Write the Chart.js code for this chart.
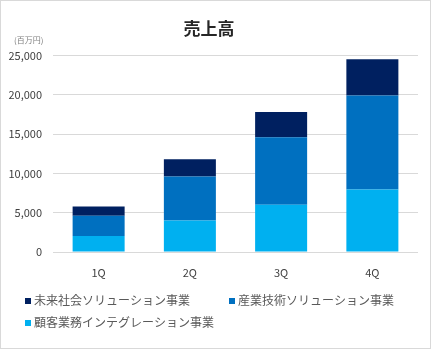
<!DOCTYPE html>
<html>
<head>
<meta charset="utf-8">
<script src="https://cdn.jsdelivr.net/npm/chart.js@4"></script>
<style>
  html, body { margin: 0; padding: 0; background: #fff; }
  #wrap { width: 432px; height: 350px; position: relative; }
</style>
</head>
<body>
<div id="wrap"><canvas id="grafik"></canvas></div>
<script>
// データ（百万円）
const kategori = ['1Q', '2Q', '3Q', '4Q'];
const namaSeri = ['顧客業務インテグレーション事業', '産業技術ソリューション事業', '未来社会ソリューション事業'];
const nilaiKokyaku = [2050, 4000, 6000, 7950];
const nilaiSangyo = [2550, 5600, 8600, 11950];
const nilaiMirai = [1200, 2200, 3200, 4600];
const tickY = [0, 5000, 10000, 15000, 20000, 25000];
const warna = ['#00B0F0', '#0070C0', '#002060'];

const FONT = "'Noto Sans CJK JP', 'Noto Sans', sans-serif";
Chart.defaults.font.family = FONT;

// Legenda dan bingkai digambar sendiri
const pluginLegenda = {
    id: 'legendaKustom',
    afterDraw(chart) {
        const ctx = chart.ctx;
        ctx.save();
        // bingkai
        ctx.strokeStyle = '#d9d9d9';
        ctx.lineWidth = 1;
        ctx.strokeRect(0.5, 0.5, 430, 348);

        // satuan
        ctx.fillStyle = '#7f7f7f';
        ctx.font = "8px " + FONT;
        ctx.textBaseline = 'middle';
        ctx.textAlign = 'left';
        ctx.fillText('(百万円)', 14, 40);

        // legenda (urutan terbalik)
        const posisi = [[25, 300], [229, 300], [25, 322]];
        const ds = chart.data.datasets.slice().reverse();
        ctx.font = "12px " + FONT;
        ds.forEach((d, i) => {
            const [x, y] = posisi[i];
            ctx.fillStyle = d.backgroundColor;
            ctx.fillRect(x, y - 2, 6, 6);
            ctx.fillStyle = '#595959';
            ctx.fillText(d.label, x + 9, y);
        });
        ctx.restore();
    }
};

new Chart(document.getElementById('grafik'), {
    type: 'bar',
    data: {
        labels: kategori,
        datasets: [
            { label: namaSeri[0], data: nilaiKokyaku, backgroundColor: warna[0] },
            { label: namaSeri[1], data: nilaiSangyo, backgroundColor: warna[1] },
            { label: namaSeri[2], data: nilaiMirai, backgroundColor: warna[2] }
        ]
    },
    options: {
        responsive: true,
        maintainAspectRatio: false,
        animation: false,
        datasets: { bar: { barPercentage: 0.57, categoryPercentage: 1 } },
        layout: { padding: { top: 18, right: 14, bottom: 68, left: 0 } },
        scales: {
            x: {
                stacked: true,
                grid: { display: false },
                border: { display: false },
                ticks: { color: '#404040', font: { size: 11 }, padding: 6 },
                afterFit: (s) => { s.height = 30; }
            },
            y: {
                stacked: true,
                min: 0,
                max: 25000,
                afterBuildTicks: (s) => { s.ticks = tickY.map(v => ({ value: v })); },
                grid: { color: '#d9d9d9', drawTicks: false },
                border: { display: false },
                ticks: {
                    color: '#404040',
                    font: { size: 11 },
                    padding: 11,
                    callback: (v) => v.toLocaleString('en-US')
                },
                afterFit: (s) => { s.width = 53; }
            }
        },
        plugins: {
            legend: { display: false },
            tooltip: { enabled: false },
            title: {
                display: true,
                text: '売上高',
                color: '#262626',
                font: { size: 17, weight: 'bold' },
                padding: { top: 0, bottom: 17 }
            }
        }
    },
    plugins: [pluginLegenda]
});
</script>
</body>
</html>
